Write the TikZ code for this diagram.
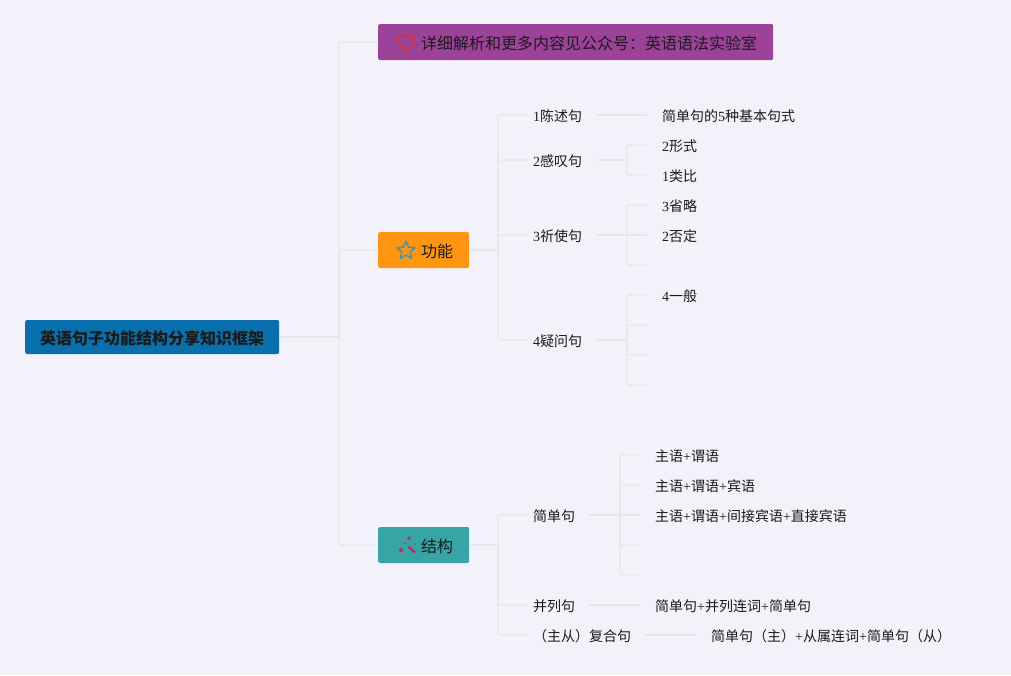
\documentclass[tikz,border=0pt]{standalone}
\usepackage{fontspec}
\setmainfont{Noto Sans CJK SC}
\newfontfamily\lat{Liberation Serif}
\newcommand{\LL}[1]{{\lat #1}}
\definecolor{bgc}{HTML}{F3F2FA}
\definecolor{linec}{HTML}{E6E6EC}
\definecolor{rootc}{HTML}{0A70AD}
\definecolor{topc}{HTML}{9C4399}
\definecolor{funcc}{HTML}{FF9510}
\definecolor{structc}{HTML}{37A4A6}
\definecolor{txt}{HTML}{1A1A1A}
\definecolor{heartc}{HTML}{D6303E}
\definecolor{starc}{HTML}{4E96A0}
\definecolor{wandc}{HTML}{C82460}
\tikzset{
  x=1pt,y=-1pt,
  conn/.style={draw=linec,line width=1.2pt},
  stem/.style={draw=linec,line width=1.5pt},
  elbow/.style={draw=linec,line width=1.2pt,rounded corners=1.5pt},
  boxn/.style={anchor=west,fill=#1,rounded corners=2pt,inner sep=0pt,minimum height=36pt,text=txt,font=\fontsize{16pt}{18pt}\selectfont,inner xsep=16pt,text height=14pt,text depth=0pt},
  rootn/.style={anchor=west,fill=rootc,rounded corners=2pt,inner sep=0pt,minimum height=34pt,minimum width=254pt,text=txt,font=\fontsize{16pt}{18pt}\selectfont\bfseries,text height=14pt,text depth=0pt},
  midn/.style={anchor=west,inner xsep=5pt,inner ysep=0pt,text height=13pt,text depth=0pt,text=txt,font=\fontsize{14pt}{16pt}\selectfont,align=left,text width=#1},
  leafn/.style={anchor=west,inner xsep=15pt,inner ysep=0pt,text height=13pt,text depth=0pt,text=txt,font=\fontsize{14pt}{16pt}\selectfont},
}
\begin{document}
\begin{tikzpicture}
\useasboundingbox[fill=bgc] (0,0) rectangle (1011,675);
% junction coordinates
\coordinate (j0) at (339,337);
\coordinate (jf) at (498,250);
\coordinate (js) at (498,545);
\coordinate (j2) at (627,160);
\coordinate (j3) at (627,235);
\coordinate (j4) at (627,340);
\coordinate (j5) at (620,515);
% free ends
\coordinate (e3) at (647,265);
\coordinate (e4a) at (647,325);
\coordinate (e4b) at (647,355);
\coordinate (e4c) at (647,385);
\coordinate (e5a) at (640,545);
\coordinate (e5b) at (640,575);
% main nodes
\node[rootn] (root) at (25,337) {英语句子功能结构分享知识框架};
\node[boxn=topc] (top) at (378,42) {\hspace*{27pt}详细解析和更多内容见公众号：英语语法实验室};
\node[boxn=funcc,minimum width=91pt] (func) at (378,250) {\hspace*{27pt}功能};
\node[boxn=structc,minimum width=91pt] (struct) at (378,545) {\hspace*{27pt}结构};
% second level
\node[midn=59pt] (a1) at (528,115) {\LL{1}陈述句};
\node[midn=59pt] (a2) at (528,160) {\LL{2}感叹句};
\node[midn=59pt] (a3) at (528,235) {\LL{3}祈使句};
\node[midn=59pt] (a4) at (528,340) {\LL{4}疑问句};
\node[midn=51pt] (b1) at (528,515) {简单句};
\node[midn=51pt] (b2) at (528,605) {并列句};
\node[midn=107pt] (b3) at (528,635) {（主从）复合句};
% leaves
\node[leafn] (a11) at (647,115) {简单句的\LL{5}种基本句式};
\node[leafn] (a21) at (647,145) {\LL{2}形式};
\node[leafn] (a22) at (647,175) {\LL{1}类比};
\node[leafn] (a31) at (647,205) {\LL{3}省略};
\node[leafn] (a32) at (647,235) {\LL{2}否定};
\node[leafn] (a41) at (647,295) {\LL{4}一般};
\node[leafn] (b11) at (640,455) {主语\LL{+}谓语};
\node[leafn] (b12) at (640,485) {主语\LL{+}谓语\LL{+}宾语};
\node[leafn] (b13) at (640,515) {主语\LL{+}谓语\LL{+}间接宾语\LL{+}直接宾语};
\node[leafn] (b21) at (640,605) {简单句\LL{+}并列连词\LL{+}简单句};
\node[leafn] (b31) at (696,635) {简单句（主）\LL{+}从属连词\LL{+}简单句（从）};
% connectors
\draw[conn] (root.east) -- (j0);
\draw[elbow] (j0) |- (top.west);
\draw[elbow] (j0) |- (func.west);
\draw[elbow] (j0) |- (struct.west);
\draw[stem] (func.east) -- (jf);
\draw[stem] (struct.east) -- (js);
\draw[elbow] (jf) |- (a1.west);
\draw[elbow] (jf) |- (a2.west);
\draw[elbow] (jf) |- (a3.west);
\draw[elbow] (jf) |- (a4.west);
\draw[elbow] (js) |- (b1.west);
\draw[elbow] (js) |- (b2.west);
\draw[elbow] (js) |- (b3.west);
\draw[conn] (a1.east) -- (a11.west);
\draw[stem] (a2.east) -- (j2);
\draw[stem] (a3.east) -- (j3);
\draw[stem] (a4.east) -- (j4);
\draw[elbow] (j2) |- (a21.west);
\draw[elbow] (j2) |- (a22.west);
\draw[elbow] (j3) |- (a31.west);
\draw[conn] (j3) -- (a32.west);
\draw[elbow] (j3) |- (e3);
\draw[elbow] (j4) |- (a41.west);
\draw[elbow] (j4) |- (e4a);
\draw[elbow] (j4) |- (e4b);
\draw[elbow] (j4) |- (e4c);
\draw[stem] (b1.east) -- (j5);
\draw[elbow] (j5) |- (b11.west);
\draw[elbow] (j5) |- (b12.west);
\draw[conn] (j5) -- (b13.west);
\draw[elbow] (j5) |- (e5a);
\draw[elbow] (j5) |- (e5b);
\draw[conn] (b2.east) -- (b21.west);
\draw[conn] (b3.east) -- (b31.west);
% heart icon
\draw[draw=heartc,line width=1.6pt,line join=round]
  (406,50.5) .. controls (400,45.5) and (397.5,43) .. (397.5,39.5)
  .. controls (397.5,34) and (404,33) .. (406,37.5)
  .. controls (408,33) and (414.5,34) .. (414.5,39.5)
  .. controls (414.5,43) and (412,45.5) .. (406,50.5) -- cycle;
% star icon
\draw[draw=starc,line width=1.6pt,line join=round]
  (406,241) -- (408.6,247.2) -- (415,247.8) -- (410.2,252) -- (411.7,258.4)
  -- (406,255) -- (400.3,258.4) -- (401.8,252) -- (397,247.8) -- (403.4,247.2) -- cycle;
% wand icon
\draw[draw=wandc,line width=2.2pt] (408.5,546.5) -- (415,552.5);
\fill[wandc] (401,547.5) -- (403.5,550) -- (401,552.5) -- (398.5,550) -- cycle;
\fill[wandc] (409,535.5) -- (409.8,537.2) -- (411.5,538) -- (409.8,538.8) -- (409,540.5) -- (408.2,538.8) -- (406.5,538) -- (408.2,537.2) -- cycle;
\fill[wandc] (405,543) circle (1);
\fill[wandc] (415,544) circle (0.8);
\end{tikzpicture}
\end{document}
